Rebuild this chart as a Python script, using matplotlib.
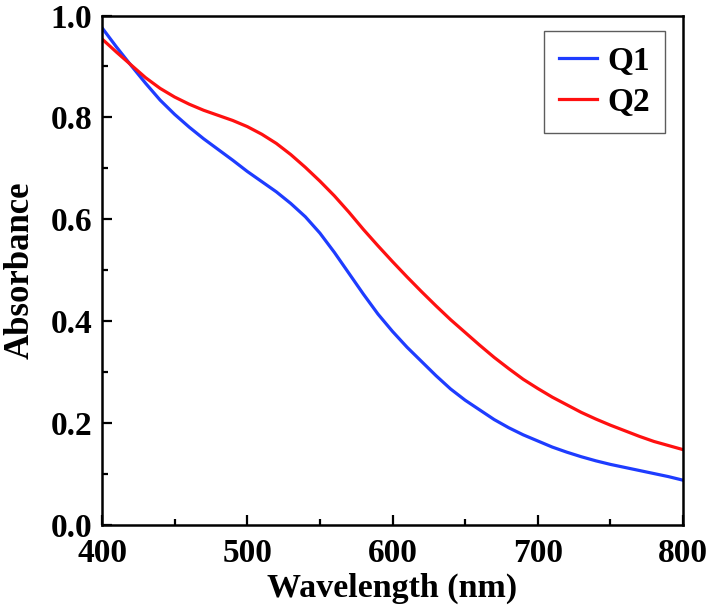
import matplotlib
matplotlib.use('Agg')
import matplotlib.pyplot as plt
from matplotlib.ticker import MultipleLocator, FormatStrFormatter

plt.rcParams['font.family'] = ['Liberation Serif', 'DejaVu Serif']
plt.rcParams['font.weight'] = 'bold'

# wavelength grid (nm) and absorbance
wavelength = list(range(400, 801, 10))
q1 = [0.976, 0.938, 0.902, 0.867, 0.834, 0.806, 0.781, 0.758, 0.737, 0.716,
      0.694, 0.674, 0.654, 0.631, 0.605, 0.573, 0.535, 0.494, 0.453, 0.414,
      0.380, 0.349, 0.321, 0.293, 0.267, 0.245, 0.226, 0.207, 0.191, 0.177,
      0.165, 0.153, 0.143, 0.134, 0.126, 0.119, 0.113, 0.107, 0.101, 0.095,
      0.088]
q2 = [0.954, 0.928, 0.903, 0.878, 0.857, 0.840, 0.826, 0.814, 0.804, 0.794,
      0.782, 0.767, 0.749, 0.727, 0.702, 0.675, 0.646, 0.614, 0.580, 0.548,
      0.517, 0.487, 0.458, 0.430, 0.403, 0.378, 0.353, 0.329, 0.307, 0.286,
      0.268, 0.251, 0.236, 0.221, 0.208, 0.196, 0.185, 0.174, 0.164, 0.156,
      0.148]

fig = plt.figure(figsize=(7.09, 6.16), dpi=100)
ax = fig.add_axes([0.1439, 0.1477, 0.8194, 0.8271])

ax.plot(wavelength, q1, color='#1e3cff', lw=2.3, label='Q1')
ax.plot(wavelength, q2, color='#ff1010', lw=2.3, label='Q2')

ax.set_xlim(400, 800)
ax.set_ylim(0.0, 1.0)
ax.xaxis.set_major_locator(MultipleLocator(100))
ax.xaxis.set_minor_locator(MultipleLocator(50))
ax.yaxis.set_major_locator(MultipleLocator(0.2))
ax.yaxis.set_minor_locator(MultipleLocator(0.1))
ax.yaxis.set_major_formatter(FormatStrFormatter('%.1f'))

ax.tick_params(which='both', direction='in', top=False, right=False, width=1.6)
ax.tick_params(which='major', length=7, labelsize=24, pad=7)
ax.tick_params(axis='x', which='major', pad=9)
ax.tick_params(which='minor', length=4)
for s in ax.spines.values():
    s.set_linewidth(1.8)

ax.set_xlabel('Wavelength (nm)', fontsize=24.5, fontweight='bold', labelpad=3)
ax.set_ylabel('Absorbance', fontsize=25, fontweight='bold', labelpad=10)

leg = ax.legend(loc='upper right', bbox_to_anchor=(0.969, 0.9696), borderaxespad=0,
                fontsize=24, frameon=True, fancybox=False,
                handlelength=1.15, labelspacing=0.3,
                handletextpad=0.3, borderpad=0.45)
leg.get_frame().set_edgecolor('#333333')
leg.get_frame().set_linewidth(1.0)
for t in leg.get_texts():
    t.set_fontweight('bold')

fig.savefig('out.png', dpi=100)
